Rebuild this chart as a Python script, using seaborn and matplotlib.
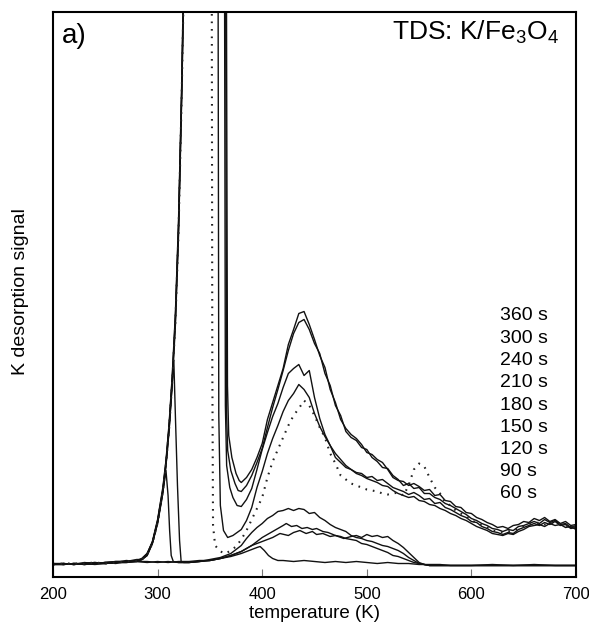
import matplotlib
matplotlib.use("Agg")
import matplotlib.pyplot as plt
import numpy as np
import pandas as pd
import seaborn as sns

sns.set_style("white")
plt.rcParams["font.family"] = ["Liberation Sans", "DejaVu Sans"]
plt.rcParams["mathtext.fontset"] = "custom"
plt.rcParams["mathtext.rm"] = "Liberation Sans"
plt.rcParams["mathtext.it"] = "Liberation Sans:italic"
plt.rcParams["text.color"] = "black"
plt.rcParams["axes.labelcolor"] = "black"
plt.rcParams["xtick.color"] = "black"

# ---------------- data (temperature in K, signal in arbitrary units) ----------------
doses = ["360 s", "300 s", "240 s", "210 s", "180 s", "150 s", "120 s", "90 s", "60 s"]

# common leading edge of the multilayer (zero-order) peak
LEAD_T = [200, 210, 220, 230, 240, 250, 260, 270, 280, 285, 290, 295, 300, 305, 308, 311,
          314, 317, 320, 323, 325, 327, 330]
LEAD_360 = [1, 2, 1, 3, 2, 3, 4, 4, 5, 6, 11, 23, 44, 75, 102, 138, 185, 245, 335, 470, 580, 800, 1500]
LEAD_300 = [2, 1, 2, 2, 3, 2, 3, 5, 4, 7, 12, 24, 46, 78, 105, 142, 190, 252, 345, 480, 600, 820, 1500]
LEAD_240 = [1, 1, 2, 1, 2, 3, 3, 4, 6, 6, 10, 22, 43, 73, 100, 135, 182, 240, 330, 465, 575, 790, 1500]
LEAD_210 = [2, 2, 1, 2, 2, 3, 4, 4, 5, 7, 12, 23, 45, 76, 103, 140, 188, 248, 340, 475, 590, 810, 1500]
LEAD_180 = [1, 2, 2, 2, 3, 2, 3, 4, 5, 6, 11, 22, 43, 74, 101, 137, 184, 243, 333, 468, 578, 798, 1500]

# trailing edges of the multilayer peaks and the minimum before the 440 K state
DROP_T_360 = [364, 366, 366.8, 368, 371, 375, 378]
DROP_V_360 = [1500, 500, 180, 130, 108, 92, 85]
DROP_T_300 = [363, 365, 366, 367, 370, 374, 377]
DROP_V_300 = [1500, 600, 150, 115, 95, 82, 75]
DROP_T_240 = [362, 363.8, 364.8, 366, 369, 372, 376]
DROP_V_240 = [1500, 700, 160, 100, 78, 68, 60]
DROP_T_210 = [356, 357.5, 358.5, 360, 363, 367, 372, 376]
DROP_V_210 = [1500, 800, 150, 60, 35, 28, 30, 33]
DROP_T_180 = [350, 351.5, 352.3, 353, 355, 360, 365, 370, 375]
DROP_V_180 = [1500, 800, 200, 40, 20, 14, 12, 15, 19]

# high-temperature part (440 K state and tail)
TAIL_T = [380, 385, 390, 395, 400, 405, 410, 415, 420, 425,
          430, 435, 440, 445, 450, 455, 460, 465, 470, 475,
          480, 485, 490, 495, 500, 505, 510, 515, 520, 525,
          530, 535, 540, 545, 550, 555, 560, 565, 570, 575,
          580, 585, 590, 595, 600, 605, 610, 615, 620, 625,
          630, 635, 640, 645, 650, 655, 660, 665, 670, 675,
          680, 685, 690, 695, 700]
TAIL_360 = [83, 88, 96, 108, 122, 146, 163, 180, 197, 221,
            236, 252, 254, 241, 226, 210, 198, 176, 163, 146,
            137, 131, 127, 121, 113, 111, 106, 103, 96, 88,
            85, 84, 80, 82, 79, 75, 76, 70, 71, 65,
            64, 59, 58, 53, 52, 48, 46, 43, 41, 38,
            39, 37, 40, 41, 44, 43, 47, 45, 48, 44,
            46, 42, 44, 40, 41]
TAIL_300 = [74, 80, 90, 103, 117, 138, 158, 176, 195, 215,
            232, 243, 246, 236, 222, 212, 192, 180, 160, 150,
            134, 128, 125, 118, 116, 108, 104, 98, 97, 90,
            86, 80, 82, 77, 78, 72, 72, 68, 66, 62,
            60, 57, 54, 51, 47, 45, 42, 40, 37, 36,
            34, 36, 35, 39, 40, 42, 44, 42, 46, 43,
            45, 41, 42, 38, 40]
TAIL_240 = [59, 66, 77, 96, 116, 133, 149, 162, 178, 192,
            197, 201, 190, 195, 168, 147, 131, 120, 108, 103,
            98, 96, 93, 92, 88, 89, 85, 86, 82, 78,
            76, 74, 71, 73, 70, 66, 67, 62, 63, 58,
            56, 53, 50, 48, 44, 43, 39, 37, 34, 33,
            31, 33, 32, 36, 38, 40, 42, 40, 43, 41,
            44, 40, 41, 37, 38]
TAIL_210 = [36, 45, 58, 78, 94, 112, 127, 140, 154, 165,
            172, 181, 176, 168, 152, 139, 129, 120, 112, 106,
            100, 96, 92, 90, 87, 85, 83, 80, 79, 75,
            72, 70, 68, 69, 65, 64, 61, 60, 57, 55,
            52, 50, 47, 45, 42, 39, 37, 35, 32, 31,
            30, 32, 31, 34, 36, 39, 40, 41, 39, 42,
            40, 41, 38, 39, 36]
TAIL_180 = [26, 35, 46, 57, 68, 88, 104, 116, 128, 140,
            150, 157, 165, 160, 150, 138, 128, 112, 102, 90,
            86, 82, 80, 78, 76, 75, 74, 72, 71, 72,
            73, 70, 80, 96, 102, 99, 88, 78, 72, 63,
            60, 55, 52, 49, 45, 43, 40, 38, 35, 34,
            33, 34, 35, 37, 39, 41, 42, 43, 41, 42,
            43, 41, 40, 39, 38]

# low-dose curves
T_150 = [200, 210, 220, 230, 240, 250, 260, 270, 280, 285,
         290, 295, 300, 305, 308, 311, 314, 315.5, 317, 319, 321, 322.5,
         325, 330, 340, 350, 360, 370, 380,
         385, 390, 395, 400, 405, 410, 415, 420, 425, 430, 435, 440, 445, 450, 455, 460,
         465, 470, 475, 480, 485, 490, 495, 500, 505, 510, 515, 520, 525, 530, 535, 540,
         545, 550, 555, 560, 580, 600, 620, 640, 660, 680, 700]
V_150 = [1, 2, 1, 2, 3, 2, 3, 4, 5, 6,
         11, 23, 43, 74, 100, 136, 182, 205, 150, 80, 25, 4,
         3, 3, 4, 6, 8, 12, 20,
         27, 33, 38, 42, 47, 50, 54, 55, 57, 55, 57, 56, 52, 53, 48, 45,
         41, 38, 36, 34, 30, 28, 27, 25, 24, 22, 20, 19, 17, 15, 12, 8,
         5, 2, 1, 0, 0, 0, 0, 0, 0, 0, 0]
T_120 = [200, 210, 220, 230, 240, 250, 260, 270, 280, 285,
         290, 295, 300, 304, 308, 310, 311.5, 313, 315, 320,
         330, 340, 350, 360, 370, 380, 390, 400, 410,
         415, 420, 423, 428, 433, 438, 443, 448, 452, 458, 463,
         470, 475, 480, 485, 490, 495, 500, 505, 510, 515, 520, 525, 530, 535, 540, 545,
         550, 555, 560, 580, 600, 620, 640, 660, 680, 700]
V_120 = [2, 1, 2, 1, 2, 3, 2, 4, 4, 6,
         10, 22, 42, 66, 95, 70, 35, 10, 4, 3,
         3, 4, 5, 7, 10, 14, 20, 28, 34,
         37, 40, 42, 39, 40, 37, 38, 36, 37, 34, 33,
         30, 29, 27, 26, 25, 22, 21, 19, 17, 15, 13, 10, 9, 7, 5, 3,
         2, 1, 0, 0, 0, 0, 0, 0, 0, 0]
T_90 = [200, 210, 220, 230, 240, 250, 260, 270, 280, 290,
        300, 310, 320, 330, 340, 350, 360, 370, 380,
        390, 400, 410, 417, 425, 430, 436, 442, 448, 452, 458, 465, 470, 478, 485,
        490, 495, 500, 505, 510, 515, 520, 525, 530, 535, 540, 545, 550, 555, 560,
        580, 600, 620, 640, 660, 680, 700]
V_90 = [1, 2, 1, 2, 1, 2, 3, 3, 4, 4,
        3, 4, 3, 3, 4, 5, 7, 10, 14,
        20, 24, 28, 32, 30, 33, 35, 32, 34, 31, 32, 29, 30, 27, 29,
        30, 28, 31, 29, 30, 28, 29, 25, 22, 18, 13, 8, 3, 1, 0,
        0, 0, 0, 0, 0, 0, 0]
T_60 = [200, 210, 220, 230, 240, 250, 260, 270, 280, 290,
        300, 310, 320, 330, 340, 350, 360, 370, 380,
        385, 390, 395, 398, 402, 406, 410, 415, 420,
        430, 440, 450, 460, 470, 480, 490, 500, 510, 520, 530, 540, 550, 560, 570, 580,
        600, 620, 640, 660, 680, 700]
V_60 = [1, 1, 2, 1, 2, 2, 3, 3, 4, 3,
        4, 3, 4, 4, 5, 5, 7, 9, 12,
        14, 16, 18, 19, 15, 10, 7, 5, 5,
        4, 5, 4, 3, 4, 3, 4, 3, 2, 3, 2, 2, 1, 1, 1, 0,
        0, 1, 0, 1, 0, 0]

# ---------------- assemble long-form table ----------------
curves = {
    "360 s": (LEAD_T + DROP_T_360 + TAIL_T, LEAD_360 + DROP_V_360 + TAIL_360),
    "300 s": (LEAD_T + DROP_T_300 + TAIL_T, LEAD_300 + DROP_V_300 + TAIL_300),
    "240 s": (LEAD_T + DROP_T_240 + TAIL_T, LEAD_240 + DROP_V_240 + TAIL_240),
    "210 s": (LEAD_T + DROP_T_210 + TAIL_T, LEAD_210 + DROP_V_210 + TAIL_210),
    "180 s": (LEAD_T + DROP_T_180 + TAIL_T, LEAD_180 + DROP_V_180 + TAIL_180),
    "150 s": (T_150, V_150),
    "120 s": (T_120, V_120),
    "90 s": (T_90, V_90),
    "60 s": (T_60, V_60),
}
frames = []
for d in doses:
    T, V = curves[d]
    frames.append(pd.DataFrame({"temperature": T, "signal": V, "dose": d}))
df = pd.concat(frames, ignore_index=True)
df_solid = df[df["dose"] != "180 s"]
df_dot = df[df["dose"] == "180 s"]

# ---------------- figure ----------------
W, H = 589, 629
fig = plt.figure(figsize=(W / 100, H / 100), dpi=100)
ax = fig.add_axes([53 / W, 1 - 577 / H, 523 / W, 565 / H])

sns.lineplot(data=df_solid, x="temperature", y="signal", units="dose", estimator=None,
             sort=False, color="#111111", linewidth=1.0, legend=False, ax=ax)
sns.lineplot(data=df_dot, x="temperature", y="signal", units="dose", estimator=None,
             sort=False, color="#222222", linewidth=1.5, linestyle=(0, (0.8, 2.8)),
             legend=False, ax=ax)

ax.set_xlim(200, 700)
ax.set_ylim(-11.5, 553.5)
ax.set_yticks([])
ax.set_xticks([200, 300, 400, 500, 600, 700])
ax.tick_params(axis="x", direction="in", length=6, width=0.8, color="#777777",
               pad=7, labelsize=12, labelcolor="black", bottom=True, top=False)
for s in ax.spines.values():
    s.set_visible(True)
    s.set_color("black")
    s.set_linewidth(1.5)

ax.set_xlabel("temperature (K)", fontsize=13.5, labelpad=2, color="black")
ax.set_ylabel("K desorption signal", fontsize=14, color="black")
ax.yaxis.set_label_coords(-0.046, 0.505)

ax.text(0.017, 0.957, "a)", transform=ax.transAxes, ha="left", va="center",
        fontsize=20, color="black")
ax.text(0.968, 0.950, "TDS: K/Fe$_3$O$_4$", transform=ax.transAxes, ha="right",
        va="baseline", fontsize=19, color="black")

# dose labels (stacked, top = highest dose)
for i, d in enumerate(doses):
    ax.text(0.855, (577 - (316 + 22.25 * i)) / 565, d, transform=ax.transAxes,
            ha="left", va="center", fontsize=14, color="black")

fig.savefig("out.png", dpi=100)
